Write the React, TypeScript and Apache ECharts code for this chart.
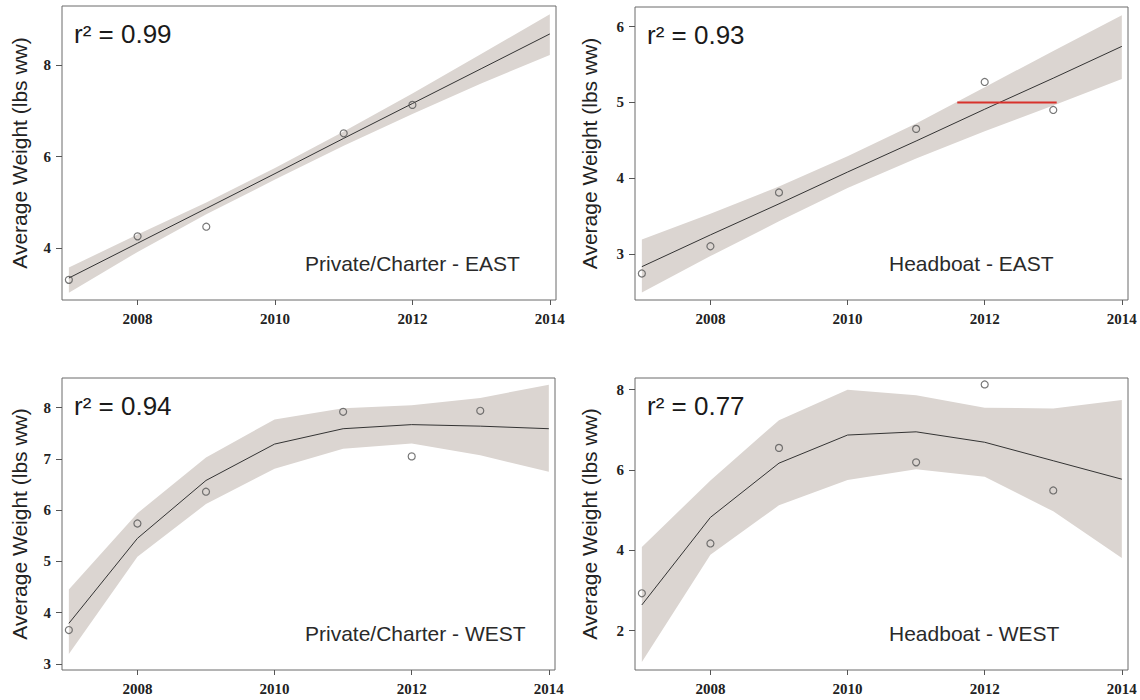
import React, { useEffect, useRef } from "react";
import * as echarts from "echarts";

// ---------- data ----------
const years = [2007, 2008, 2009, 2010, 2011, 2012, 2013, 2014];
const xTickLabels = [2008, 2010, 2012, 2014];

// Panel 1: Private/Charter - EAST
const p1Title = "Private/Charter - EAST";
const p1R2 = "r² = 0.99";
const p1PointYears = [2007, 2008, 2009, 2011, 2012];
const p1PointValues = [3.31, 4.26, 4.47, 6.51, 7.13];
const p1Fit = [3.35, 4.11, 4.87, 5.63, 6.4, 7.16, 7.92, 8.68];
const p1Upper = [3.58, 4.3, 5.0, 5.75, 6.55, 7.38, 8.24, 9.11];
const p1Lower = [3.03, 3.92, 4.74, 5.5, 6.24, 6.93, 7.6, 8.22];
const p1YTicks = [4, 6, 8];

// Panel 2: Headboat - EAST
const p2Title = "Headboat - EAST";
const p2R2 = "r² = 0.93";
const p2PointYears = [2007, 2008, 2009, 2011, 2012, 2013];
const p2PointValues = [2.74, 3.1, 3.81, 4.65, 5.27, 4.9];
const p2Fit = [2.83, 3.25, 3.66, 4.08, 4.49, 4.91, 5.32, 5.74];
const p2Upper = [3.19, 3.53, 3.89, 4.29, 4.72, 5.2, 5.68, 6.15];
const p2Lower = [2.49, 2.97, 3.43, 3.87, 4.26, 4.62, 4.96, 5.31];
const p2YTicks = [3, 4, 5, 6];
const p2RefLineYears = [2011.6, 2013.05];
const p2RefLineValue = 5;

// Panel 3: Private/Charter - WEST
const p3Title = "Private/Charter - WEST";
const p3R2 = "r² = 0.94";
const p3PointYears = [2007, 2008, 2009, 2011, 2012, 2013];
const p3PointValues = [3.66, 5.74, 6.36, 7.92, 7.05, 7.94];
const p3Fit = [3.79, 5.45, 6.58, 7.29, 7.59, 7.67, 7.64, 7.59];
const p3Upper = [4.45, 5.94, 7.03, 7.77, 7.99, 8.05, 8.19, 8.45];
const p3Lower = [3.19, 5.09, 6.12, 6.81, 7.2, 7.3, 7.07, 6.75];
const p3YTicks = [3, 4, 5, 6, 7, 8];

// Panel 4: Headboat - WEST
const p4Title = "Headboat - WEST";
const p4R2 = "r² = 0.77";
const p4PointYears = [2007, 2008, 2009, 2011, 2012, 2013];
const p4PointValues = [2.93, 4.17, 6.55, 6.19, 8.13, 5.49];
const p4Fit = [2.64, 4.82, 6.17, 6.87, 6.95, 6.69, 6.23, 5.77];
const p4Upper = [4.08, 5.74, 7.24, 8.0, 7.86, 7.55, 7.53, 7.74];
const p4Lower = [1.22, 3.89, 5.12, 5.75, 6.02, 5.83, 4.97, 3.81];
const p4YTicks = [2, 4, 6, 8];

const yTitle = "Average Weight (lbs ww)";

// ---------- layout ----------
const panels = [
  { title: p1Title, r2: p1R2, px: p1PointYears, py: p1PointValues, fit: p1Fit, up: p1Upper, lo: p1Lower, yTicks: p1YTicks,
    grid: { left: 62, top: 6, width: 494, height: 294 }, yMin: 2.87, yMax: 9.29 },
  { title: p2Title, r2: p2R2, px: p2PointYears, py: p2PointValues, fit: p2Fit, up: p2Upper, lo: p2Lower, yTicks: p2YTicks,
    grid: { left: 635, top: 7, width: 493, height: 293 }, yMin: 2.39, yMax: 6.26 },
  { title: p3Title, r2: p3R2, px: p3PointYears, py: p3PointValues, fit: p3Fit, up: p3Upper, lo: p3Lower, yTicks: p3YTicks,
    grid: { left: 62, top: 378, width: 493, height: 292 }, yMin: 2.88, yMax: 8.58 },
  { title: p4Title, r2: p4R2, px: p4PointYears, py: p4PointValues, fit: p4Fit, up: p4Upper, lo: p4Lower, yTicks: p4YTicks,
    grid: { left: 635, top: 378, width: 493, height: 292 }, yMin: 1.02, yMax: 8.29 },
];
const xMin = 2006.9;
const xMax = 2014.09;

const SANS = "'Liberation Sans', Arial, sans-serif";
const SERIF = "'Liberation Serif', 'Times New Roman', serif";
const BAND = "#dbd5d1";

export default function App() {
  const ref = useRef<HTMLDivElement>(null);
  useEffect(() => {
    document.body.style.margin = "0";
    if (!ref.current) return;
    const chart = echarts.init(ref.current, undefined, { renderer: "svg" });

    const grids: any[] = [];
    const xAxes: any[] = [];
    const yAxes: any[] = [];
    const series: any[] = [];
    const graphics: any[] = [];

    panels.forEach((p, i) => {
      grids.push({ ...p.grid, show: true, borderColor: "#6a6a6a", borderWidth: 1, backgroundColor: "transparent", containLabel: false });
      xAxes.push({
        type: "value", gridIndex: i, min: xMin, max: xMax,
        axisLine: { show: false },
        axisTick: { show: true, customValues: xTickLabels, length: 5, lineStyle: { color: "#555" } },
        axisLabel: { customValues: xTickLabels, formatter: (v: number) => String(v), fontFamily: SERIF, fontWeight: "bold", fontSize: 15, color: "#222", margin: 11 },
        splitLine: { show: false },
      });
      yAxes.push({
        type: "value", gridIndex: i, min: p.yMin, max: p.yMax,
        axisLine: { show: false },
        axisTick: { show: true, customValues: p.yTicks, length: 6, lineStyle: { color: "#555" } },
        axisLabel: { customValues: p.yTicks, formatter: (v: number) => String(v), fontFamily: SERIF, fontWeight: "bold", fontSize: 15, color: "#222", margin: 11 },
        splitLine: { show: false },
      });
      series.push({
        type: "custom", xAxisIndex: i, yAxisIndex: i, silent: true, z: 1,
        data: years.map((y, k) => [y, p.lo[k], p.up[k]]),
        encode: { x: 0, y: [1, 2] },
        renderItem: (params: any, api: any) => {
          if (params.dataIndexInside !== 0) return null;
          const n = params.dataInsideLength;
          const top: number[][] = [];
          const bot: number[][] = [];
          for (let k = 0; k < n; k++) {
            const x = api.value(0, k);
            top.push(api.coord([x, api.value(2, k)]));
            bot.push(api.coord([x, api.value(1, k)]));
          }
          return { type: "polygon", shape: { points: top.concat(bot.reverse()) }, style: { fill: BAND } };
        },
      });
      series.push({
        type: "line", xAxisIndex: i, yAxisIndex: i, symbol: "none", silent: true, z: 3,
        data: years.map((y, k) => [y, p.fit[k]]),
        lineStyle: { color: "#333", width: 1 },
      });
      series.push({
        type: "scatter", xAxisIndex: i, yAxisIndex: i, silent: true, z: 4, symbol: "circle", symbolSize: 7,
        data: p.px.map((y, k) => [y, p.py[k]]),
        itemStyle: { color: "rgba(0,0,0,0)", borderColor: "#555", borderWidth: 1.2 },
      });

      const g = p.grid;
      graphics.push({
        type: "text", x: g.left === 62 ? 19 : 589, y: g.top + g.height / 2, rotation: Math.PI / 2,
        style: { text: yTitle, fontFamily: SANS, fontSize: 21, fill: "#222", align: "center", verticalAlign: "middle" },
      });
      graphics.push({
        type: "text", x: g.left + 12, y: g.top + 28,
        style: { text: p.r2, fontFamily: SANS, fontSize: 26, fill: "#1a1a1a", align: "left", verticalAlign: "middle" },
      });
      graphics.push({
        type: "text", x: g.left + 243 + (g.left === 62 ? 0 : 11), y: g.top + g.height - 37,
        style: { text: p.title, fontFamily: SANS, fontSize: 21, fill: "#2a2a2a", align: "left", verticalAlign: "middle" },
      });
    });

    // red reference segment in panel 2
    series.push({
      type: "line", xAxisIndex: 1, yAxisIndex: 1, symbol: "none", silent: true, z: 5,
      data: p2RefLineYears.map((y) => [y, p2RefLineValue]),
      lineStyle: { color: "#d8322c", width: 2 },
    });

    chart.setOption({
      animation: false,
      backgroundColor: "#ffffff",
      grid: grids,
      xAxis: xAxes,
      yAxis: yAxes,
      series,
      graphic: graphics,
    });
    return () => chart.dispose();
  }, []);
  return <div ref={ref} style={{ width: 1140, height: 700 }} />;
}
